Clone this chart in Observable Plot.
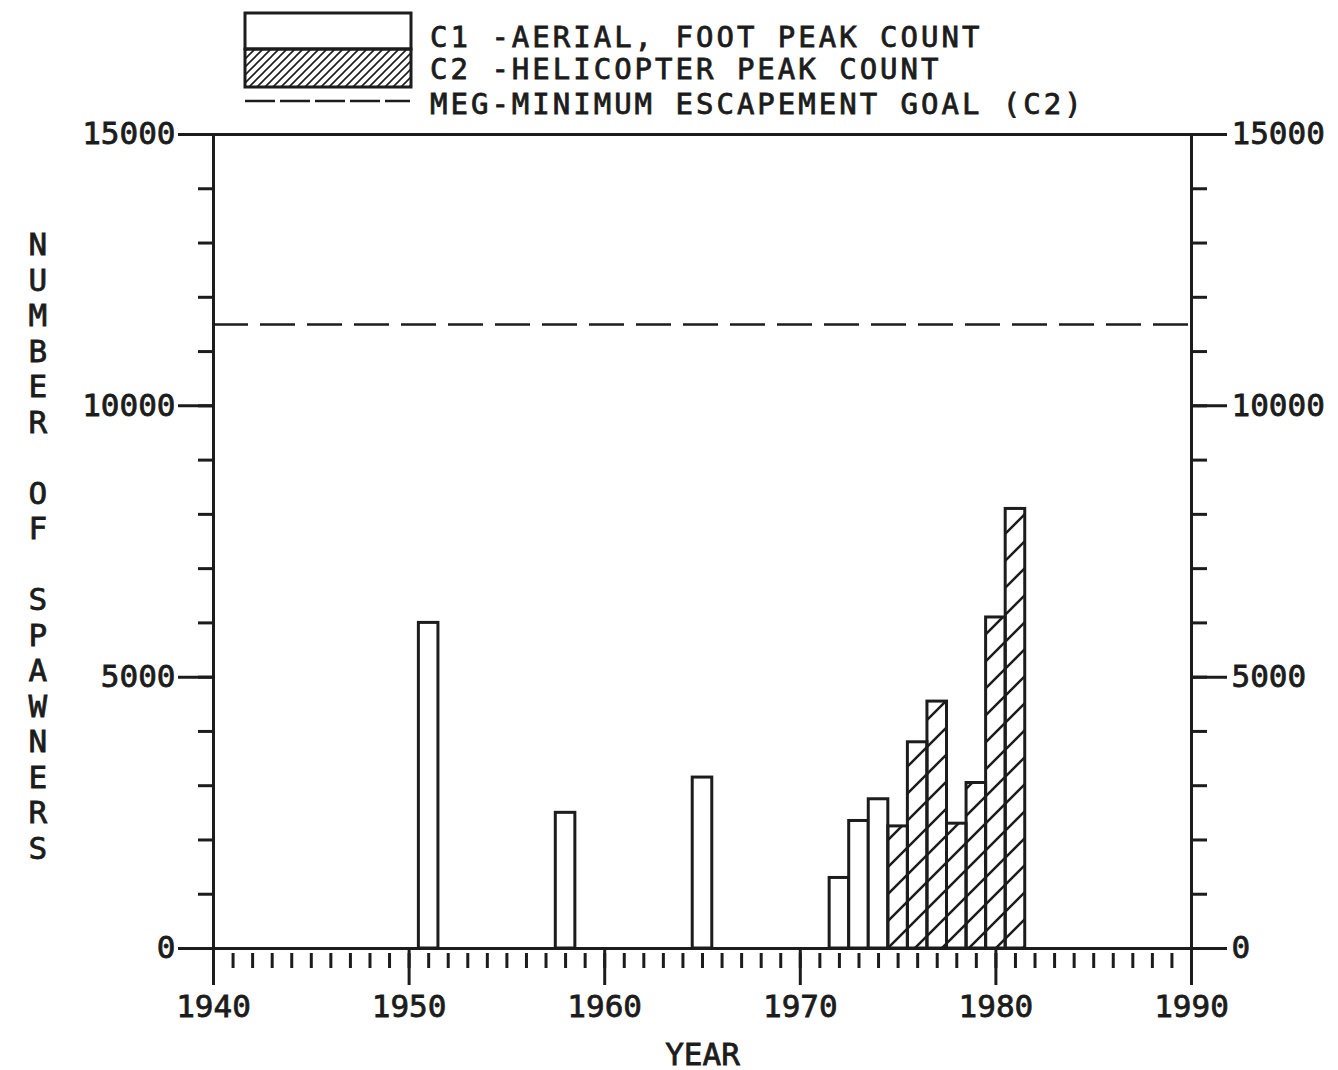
<!DOCTYPE html>
<html><head><meta charset="utf-8">
<script src="https://cdn.jsdelivr.net/npm/d3@7"></script>
<script src="https://cdn.jsdelivr.net/npm/@observablehq/plot@0.6"></script>
<style>body{margin:0;background:#fff}#chart svg{display:block}#chart svg text{stroke:#1c1c1c;stroke-width:0.8px}</style>
</head><body><div id="chart"></div>
<script>
// C1 - aerial, foot peak count
const c1Years = [1951, 1958, 1965, 1972, 1973, 1974];
const c1Values = [6000, 2500, 3150, 1300, 2350, 2750];
// C2 - helicopter peak count
const c2Years = [1975, 1976, 1977, 1978, 1979, 1980, 1981];
const c2Values = [2250, 3800, 4550, 2300, 3050, 6100, 8100];
// MEG - minimum escapement goal (C2)
const megValue = [11500];

const xMajorTicks = [1940, 1950, 1960, 1970, 1980, 1990];
const xMinorTicks = d3.range(1940, 1991, 1);
const yMajorTicks = [0, 5000, 10000, 15000];
const yMinorTicks = d3.range(0, 15001, 1000);

const legendLabels = [
  "C1 -AERIAL, FOOT PEAK COUNT",
  "C2 -HELICOPTER PEAK COUNT",
  "MEG-MINIMUM ESCAPEMENT GOAL (C2)"
];
const yTitle = "NUMBER OF SPAWNERS";
const xTitle = "YEAR";

const c1 = c1Years.map((year, i) => ({year, value: c1Values[i]}));
const c2 = c2Years.map((year, i) => ({year, value: c2Values[i]}));

const ink = "#1c1c1c";
const fmt = d => String(d);

const chart = Plot.plot({
  width: 1338,
  height: 1070,
  marginLeft: 213,
  marginRight: 147,
  marginTop: 134,
  marginBottom: 122,
  x: {domain: [1940, 1990]},
  y: {domain: [0, 15000]},
  style: {fontFamily: "'DejaVu Sans Mono', monospace", fontSize: "31px", color: ink, background: "white"},
  marks: [
    Plot.ruleY(megValue, {stroke: ink, strokeWidth: 2.5, strokeDasharray: "35,12"}),
    Plot.rectY(c1, {x1: d => d.year - 0.5, x2: d => d.year + 0.5, y: "value", fill: "white", stroke: ink, strokeWidth: 3}),
    Plot.rectY(c2, {x1: d => d.year - 0.5, x2: d => d.year + 0.5, y: "value", fill: "url(#hatchBar)", stroke: ink, strokeWidth: 3}),
    Plot.frame({stroke: ink, strokeWidth: 3}),
    // x axis
    Plot.axisX(xMinorTicks, {anchor: "bottom", tickSize: 15, dy: 5, strokeWidth: 3, tickFormat: () => "", label: null}),
    Plot.axisX(xMajorTicks, {anchor: "bottom", tickSize: 37, tickPadding: 9, strokeWidth: 3, tickFormat: fmt, fontSize: 31, label: null}),
    // left y axis
    Plot.axisY(yMinorTicks, {anchor: "left", tickSize: 15, strokeWidth: 3, tickFormat: () => "", label: null}),
    Plot.axisY(yMajorTicks, {anchor: "left", tickSize: 35, tickPadding: 3, strokeWidth: 3, tickFormat: fmt, fontSize: 31, label: null}),
    // right y axis
    Plot.axisY(yMinorTicks, {anchor: "right", tickSize: 15, strokeWidth: 3, tickFormat: () => "", label: null}),
    Plot.axisY(yMajorTicks, {anchor: "right", tickSize: 35, tickPadding: 5, strokeWidth: 3, tickFormat: fmt, fontSize: 31, label: null}),
    // titles
    Plot.text([xTitle], {frameAnchor: "bottom", dy: 116, fontSize: 31, fill: ink}),
    Plot.text([yTitle.split("").join("\n")], {frameAnchor: "left", dx: -185, dy: 4, fontSize: 31, lineHeight: 35.5 / 31, fill: ink})
  ]
});

const svg = d3.select(chart);
const defs = svg.insert("defs", ":first-child");
const pb = defs.append("pattern").attr("id", "hatchBar").attr("patternUnits", "userSpaceOnUse")
  .attr("width", 27).attr("height", 27);
pb.append("path").attr("d", "M-1,28L28,-1M-7,7L7,-7M20,34L34,20").attr("stroke", ink).attr("stroke-width", 2.5);
const pl = defs.append("pattern").attr("id", "hatchLegend").attr("patternUnits", "userSpaceOnUse")
  .attr("width", 8).attr("height", 8);
pl.append("path").attr("d", "M-1,9L9,-1M-2,2L2,-2M6,10L10,6").attr("stroke", ink).attr("stroke-width", 1.6);

const lg = svg.append("g").attr("class", "legend").attr("text-anchor", "start");
lg.append("rect").attr("x", 245).attr("y", 13).attr("width", 166).attr("height", 36)
  .attr("fill", "white").attr("stroke", ink).attr("stroke-width", 3);
lg.append("rect").attr("x", 245).attr("y", 49).attr("width", 166).attr("height", 38)
  .attr("fill", "url(#hatchLegend)").attr("stroke", ink).attr("stroke-width", 3);
lg.append("line").attr("x1", 245).attr("x2", 410).attr("y1", 101).attr("y2", 101)
  .attr("stroke", ink).attr("stroke-width", 2.5).attr("stroke-dasharray", "30,5");
const baselines = [47, 79, 114];
legendLabels.forEach((t, i) => {
  lg.append("text").attr("x", 430).attr("y", baselines[i]).text(t)
    .attr("text-anchor", "start")
    .attr("fill", ink).attr("font-size", 29).attr("letter-spacing", 3)
    .attr("font-family", "'DejaVu Sans Mono', monospace");
});

document.getElementById("chart").append(chart);
</script>
</body></html>
